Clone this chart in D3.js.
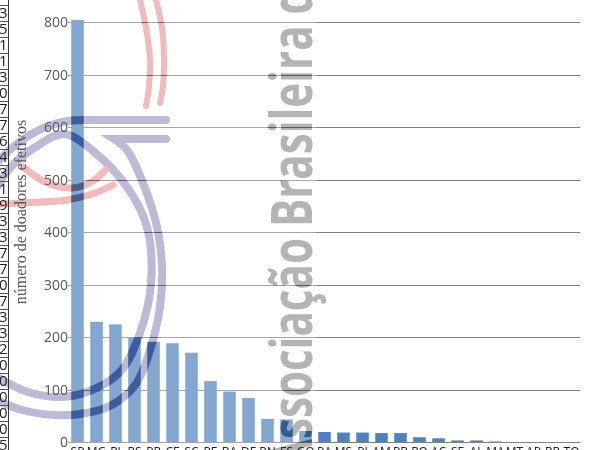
<!DOCTYPE html>
<html><head><meta charset="utf-8">
<script src="https://cdn.jsdelivr.net/npm/d3@7"></script>
<style>html,body{margin:0;padding:0;background:#fff;overflow:hidden}</style>
</head><body><svg id="c" width="590" height="450"></svg>
<script>
const categories = ["SP","MG","RJ","RS","PR","CE","SC","PE","BA","DF","RN","ES","GO","PA","MS","PI","AM","PB","RO","AC","SE","AL","MA","MT","AP","RR","TO"];
const donors = [804,229,224,200,191,188,170,116,96,84,44,43,21,19,18,18,17,17,9,7,3,3,1,0,0,0,0];
const yTicks = [0,100,200,300,400,500,600,700,800];
const yTitle = "número de doadores efetivos";
const tableDigits = ["3","5","1","1","3","0","7","7","6","4","3","1","9","3","3","7","7","0","7","3","3","2","0","0","0","0","0","5"];
const watermarkText = "Associação Brasileira de";

const svg = d3.select("#c");
const W = 590, H = 450;
const x = d3.scaleBand().domain(categories).range([68, 581]).paddingInner(0.34).paddingOuter(0.17);
const y = d3.scaleLinear().domain([0, 800]).range([442, 22]);

// gridlines
svg.append("g").selectAll("line").data(yTicks).join("line")
  .attr("x1", 68).attr("x2", 580)
  .attr("y1", d => Math.round(y(d)) + 0.5).attr("y2", d => Math.round(y(d)) + 0.5)
  .attr("stroke", "#808080").attr("stroke-width", 1);

// bars
svg.append("g").selectAll("rect").data(categories).join("rect")
  .attr("x", d => x(d)).attr("width", x.bandwidth())
  .attr("y", (d, i) => y(donors[i])).attr("height", (d, i) => y(0) - y(donors[i]))
  .attr("fill", "#4f81bd");

// watermark geometry (decoration)
const line = d3.line().curve(d3.curveCatmullRom.alpha(0.5));
const purplePaths = [
  "M166,120 L82,120 C52,120 22,133 -8,168",
  "M166,139 L114,139 " + line([[114,139],[127,150],[143,183],[157,227],[162,267],[160,307],[150,350],[136,384],[110,406],[80,414],[55,415],[22,410],[-8,398]]).slice(1).replace(/^[^C]*/, ""),
  line([[-8,196],[10,168],[34,148],[64,134],[93,151],[127,187],[147,227],[151,283],[140,333],[120,372],[87,392],[58,397],[25,391],[-8,374]])
];
const pinkPaths = [
  line([[139,-4],[146,28],[150,60],[149,86],[146,106]]),
  line([[155,-4],[162,28],[164,60],[163,86],[160,103]]),
  line([[23,167],[45,182],[72,188],[93,181],[105,170]]),
  line([[-12,205],[20,203],[67,200],[95,193],[113,185]])
];

const defs = svg.append("defs");
const mask = defs.append("mask").attr("id", "wm").attr("maskUnits", "userSpaceOnUse")
  .attr("x", 0).attr("y", 0).attr("width", W).attr("height", H);
mask.append("rect").attr("width", W).attr("height", H).attr("fill", "#fff");
function drawLogo(g, purple, pink, gray) {
  g.selectAll("path.pu").data(purplePaths).join("path").attr("class", "pu")
    .attr("d", d => d).attr("fill", "none").attr("stroke", purple)
    .attr("stroke-width", 8).attr("stroke-linecap", "round");
  g.selectAll("path.pk").data(pinkPaths).join("path").attr("class", "pk")
    .attr("d", d => d).attr("fill", "none").attr("stroke", pink)
    .attr("stroke-width", (d, i) => i < 2 ? 6 : 7).attr("stroke-linecap", "round");
  g.append("text").attr("transform", "translate(312,468) rotate(-90)")
    .attr("font-family", "Open Sans").attr("font-weight", 700).attr("font-size", 58)
    .attr("textLength", 505).attr("lengthAdjust", "spacingAndGlyphs")
    .attr("fill", gray).text(watermarkText);
}
drawLogo(mask.append("g"), "#000", "#000", "#000");

// white veil over left part
svg.append("rect").attr("x", 0).attr("y", 0).attr("width", 316).attr("height", H)
  .attr("fill", "#fff").attr("fill-opacity", 0.3).attr("mask", "url(#wm)");

const logo = svg.append("g").style("mix-blend-mode", "multiply");
drawLogo(logo, "#bfb8d6", "#f2baba", "#b4b4b4");

// y tick labels
svg.append("g").selectAll("text").data(yTicks).join("text")
  .attr("x", 68).attr("y", d => y(d)).attr("dy", "0.36em")
  .attr("text-anchor", "end").attr("font-family", "Open Sans").attr("font-size", 14)
  .attr("fill", "#595959").text(d => d);

// y title
svg.append("text").attr("transform", "translate(26,212) rotate(-90)")
  .attr("text-anchor", "middle").attr("font-family", "Liberation Serif").attr("font-size", 16)
  .attr("fill", "#595959").text(yTitle);

// x labels (cut off by bottom edge)
svg.append("g").selectAll("text").data(categories).join("text")
  .attr("x", d => x(d) + x.bandwidth() / 2).attr("y", 456)
  .attr("text-anchor", "middle").attr("font-family", "Open Sans").attr("font-size", 12)
  .attr("fill", "#222").text(d => d);

// table fragment at the left edge
const tg = svg.append("g");
tg.selectAll("text").data(tableDigits).join("text")
  .attr("x", 7.5).attr("y", (d, i) => 13 + i * 16).attr("dy", "0.36em")
  .attr("text-anchor", "end").attr("font-family", "Open Sans").attr("font-size", 15)
  .attr("fill", "#222").text(d => d);
tg.selectAll("line").data(d3.range(29)).join("line")
  .attr("x1", 0).attr("x2", 9).attr("y1", i => 5.5 + i * 16).attr("y2", i => 5.5 + i * 16)
  .attr("stroke", "#555").attr("stroke-width", 1);
tg.append("line").attr("x1", 8.5).attr("x2", 8.5).attr("y1", 0).attr("y2", H)
  .attr("stroke", "#333").attr("stroke-width", 1);
</script></body></html>
